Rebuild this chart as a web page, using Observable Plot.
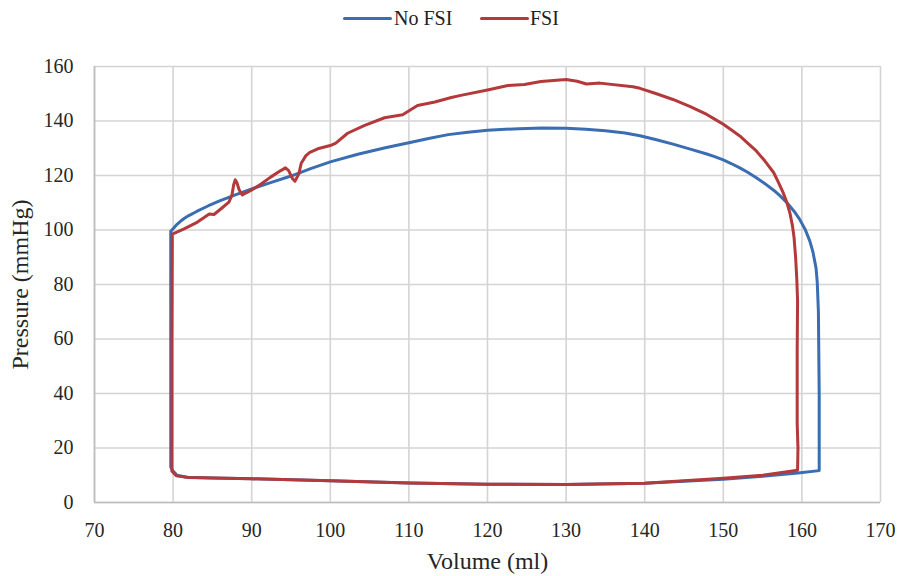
<!DOCTYPE html>
<html>
<head>
<meta charset="utf-8">
<script src="https://cdn.jsdelivr.net/npm/d3@7"></script>
<script src="https://cdn.jsdelivr.net/npm/@observablehq/plot@0.6"></script>
<style>
  html, body { margin: 0; padding: 0; background: #fff; }
  body { width: 899px; height: 576px; overflow: hidden; font-family: "Liberation Serif", "Times New Roman", serif; }
  .legend { position: relative; height: 36px; width: 899px; font-size: 20px; color: #222; }
  .legend .sw { position: absolute; top: 17px; width: 49px; height: 3px; border-radius: 1.5px; }
  .legend .lb { position: absolute; top: 7px; line-height: 22px; }
</style>
</head>
<body>
<div class="legend">
  <div class="sw" style="left:343px;background:#3B6DB2"></div>
  <div class="lb" style="left:394px">No FSI</div>
  <div class="sw" style="left:480px;background:#B3393B"></div>
  <div class="lb" style="left:530px">FSI</div>
</div>
<div id="chart"></div>
<script>
// Pressure–volume loop without fluid–structure interaction (ordered around the loop)
const noFsiVolume = [80.0, 80.5, 81.7, 85, 90, 100, 110, 120, 130, 140, 150, 155, 159.5, 162.2,
  162.2, 162.1, 161.95, 161.8, 161.4, 161.0, 160.4, 159.7, 159.0, 158.1, 157.2, 156.4, 155.3, 154.2,
  153.1, 152.1, 151.0, 150.0, 148.9, 147.9, 145.8, 143.6, 141.5, 139.4,
  137.5, 135, 132.5, 130, 127, 124, 120, 117.5, 115, 112.5, 110, 107, 103.5, 100, 97.5, 95, 92.5,
  90, 88, 86, 84.5, 83, 82, 81.4, 80.9, 80.5, 80.2, 79.7, 79.7, 79.7, 80.0];
const noFsiPressure = [11.5, 10.0, 9.3, 9.0, 8.7, 8.0, 7.2, 6.7, 6.6, 7.1, 8.5, 9.6, 10.8, 11.7,
  40, 70, 81, 86, 92, 96, 100.3, 104, 106.9, 110, 112.6, 114.6, 117, 119.2,
  121.2, 122.8, 124.4, 125.7, 126.9, 127.9, 129.7, 131.5, 133.1, 134.6,
  135.6, 136.4, 137, 137.3, 137.4, 137.2, 136.6, 135.9, 135, 133.6, 132, 130.2, 127.8, 125, 122.5, 119.8, 117.5,
  115.1, 113, 110.8, 108.9, 106.8, 105.3, 104.2, 103.1, 102.1, 101.1, 99.5, 60, 13, 11.5];

// Pressure–volume loop with fluid–structure interaction
const fsiVolume = [79.85, 80.4, 82, 90, 100, 110, 120, 130, 140, 150, 155, 159.45,
  159.5, 159.4, 159.4, 159.45, 159.35, 159.2, 159.0, 158.8, 158.5, 158.1, 157.6, 157.0, 156.4,
  155.3, 154.2, 153.1, 152.1, 151.0, 150.0, 148.9, 147.9, 145.8, 143.6, 141.5, 139.4,
  138.5, 134.3, 132.6, 131.4, 130, 126.8, 124.7, 122.6, 120, 116.6, 115.4, 113.3, 111.1, 109.2,
  106.9, 104.3, 102.2, 100.7, 100, 98.4, 97.4, 96.9, 96.3, 96, 95.5, 95.2, 94.7, 94.3, 93.7, 92.4, 91.2, 89.9, 88.8,
  88.4, 88.1, 87.9, 87.7, 87.5, 87.1, 86.1, 85.2, 84.6, 83.1, 81.4, 79.9, 79.85, 79.85, 79.85];
const fsiPressure = [11.5, 9.8, 9.2, 8.7, 8.0, 7.2, 6.7, 6.6, 7.1, 8.9, 10.0, 11.8,
  20, 29, 56, 74, 82, 90, 97.3, 101.5, 105.9, 110, 113.8, 117.6, 121.1,
  125.3, 129, 131.9, 134.5, 136.8, 138.8, 140.7, 142.4, 145.3, 147.9, 150, 152,
  152.6, 153.9, 153.6, 154.6, 155.2, 154.5, 153.4, 153, 151.4, 149.4, 148.6, 147, 145.7, 142.3,
  141.2, 138.3, 135.5, 131.9, 131, 129.8, 128.5, 127.3, 124.5, 120.6, 117.9, 118.8, 121.8, 122.8, 121.8, 119.4, 116.9, 114.5, 112.9,
  114.8, 117.5, 118.4, 116.5, 113, 110.2, 107.8, 105.7, 105.9, 102.9, 100.4, 98.5, 60, 13, 11.5];

const xTicks = d3.range(70, 171, 10);
const yTicks = d3.range(0, 161, 20);

const rows = [
  ...noFsiVolume.map((v, i) => ({series: "No FSI", volume: v, pressure: noFsiPressure[i]})),
  ...fsiVolume.map((v, i) => ({series: "FSI", volume: v, pressure: fsiPressure[i]}))
];

const chart = Plot.plot({
  width: 899,
  height: 540,
  marginLeft: 94,
  marginRight: 19,
  marginTop: 30,
  marginBottom: 74,
  style: {fontFamily: "Liberation Serif, Times New Roman, serif", fontSize: "20px", color: "#262626", background: "#fff"},
  x: {domain: [70, 170]},
  y: {domain: [0, 160]},
  color: {domain: ["No FSI", "FSI"], range: ["#3B6DB2", "#B3393B"]},
  marks: [
    Plot.gridX(xTicks, {stroke: "#d4d4d4", strokeOpacity: 1, strokeWidth: 1.6}),
    Plot.gridY(yTicks, {stroke: "#d4d4d4", strokeOpacity: 1, strokeWidth: 1.6}),
    Plot.ruleX([70], {stroke: "#bdbdbd", strokeWidth: 1.6}),
    Plot.ruleY([0], {stroke: "#bdbdbd", strokeWidth: 1.6}),
    Plot.axisX(xTicks, {tickSize: 0, tickPadding: 20, fontSize: 20, label: "Volume (ml)", labelAnchor: "center", labelArrow: "none", labelOffset: 66}),
    Plot.axisY(yTicks, {tickSize: 0, tickPadding: 21, fontSize: 20, label: "Pressure (mmHg)", labelAnchor: "center", labelArrow: "none", labelOffset: 84}),
    Plot.line(rows, {x: "volume", y: "pressure", z: "series", stroke: "series", strokeWidth: 3, strokeLinejoin: "round", curve: "linear"})
  ]
});
// axis titles slightly larger than tick labels
chart.querySelectorAll("g[aria-label='x-axis label'] text, g[aria-label='y-axis label'] text").forEach(t => t.style.fontSize = "24px");
document.getElementById("chart").appendChild(chart);
</script>
</body>
</html>
